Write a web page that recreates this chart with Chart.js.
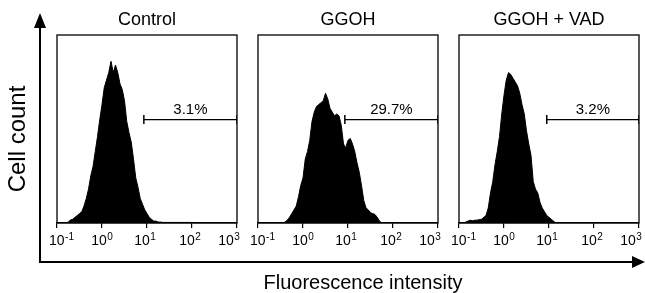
<!DOCTYPE html>
<html>
<head>
<meta charset="utf-8">
<script src="https://cdn.jsdelivr.net/npm/chart.js@4.4.0/dist/chart.umd.min.js"></script>
<style>
  html, body { margin: 0; padding: 0; background: #fff; overflow: hidden; }
  #wrap { position: relative; width: 645px; height: 293px; overflow: hidden;
          font-family: 'Liberation Sans', Arial, Helvetica, sans-serif; color: #000; }
  canvas { position: absolute; top: 0; }
  .vline { position: absolute; left: 39px; top: 24px; width: 1.5px; height: 238px; background: #000; }
  .vhead { position: absolute; left: 34px; top: 13px; width: 0; height: 0;
           border-left: 6px solid transparent; border-right: 6px solid transparent; border-bottom: 15px solid #000; }
  .hline { position: absolute; left: 39px; top: 261px; width: 596px; height: 1.5px; background: #000; }
  .hhead { position: absolute; left: 632px; top: 256px; width: 0; height: 0;
           border-top: 6px solid transparent; border-bottom: 6px solid transparent; border-left: 13px solid #000; }
  .ylab { position: absolute; left: 17px; top: 139px; font-size: 24px; line-height: 1; white-space: nowrap;
          transform: translate(-50%, -50%) rotate(-90deg); }
  .xlab { position: absolute; left: 363px; top: 282px; font-size: 20px; line-height: 1; white-space: nowrap;
          transform: translate(-50%, -50%); }
</style>
</head>
<body>
<div id="wrap">
  <canvas id="c0" width="210" height="260" style="left:42px"></canvas>
  <canvas id="c1" width="210" height="260" style="left:243px"></canvas>
  <canvas id="c2" width="210" height="260" style="left:444px"></canvas>
  <div class="vline"></div><div class="vhead"></div>
  <div class="hline"></div><div class="hhead"></div>
  <div class="ylab">Cell count</div>
  <div class="xlab">Fluorescence intensity</div>
</div>
<script>
// channel positions, log10 of fluorescence intensity
var channels = [-1.00,-0.95,-0.90,-0.85,-0.80,-0.75,-0.70,-0.65,-0.60,-0.55,
  -0.50,-0.45,-0.40,-0.35,-0.30,-0.25,-0.20,-0.15,-0.10,-0.05,
  0.00,0.05,0.10,0.15,0.20,0.25,0.30,0.35,0.40,0.45,
  0.50,0.55,0.60,0.65,0.70,0.75,0.80,0.85,0.90,0.95,
  1.00,1.05,1.10,1.15,1.20,1.25,1.30,1.35,1.40,1.45,
  1.50,1.55,1.60,1.65,1.70,1.75,1.80,1.85,1.90,1.95,2.00];

var panelTitles = ['Control', 'GGOH', 'GGOH + VAD'];

var controlCounts = [0,0,0,0,0,0.5,1.6,2,3,4,
  5,6,9,13,18,25,30,38,46,55,
  63,72,76,80,86,80,84,80,74,71,
  65,54,48,43,34,24,19,13,10,7,
  5,3,2,1,1,0.5,0.5,0.3,0.3,0.3,
  0.3,0.3,0.3,0.3,0.3,0.3,0.3,0.3,0.3,0.3,0.3];

var ggohCounts = [0,0,0,0,0,0,0,0,0,0,
  0,0,0.5,1.5,3,5,7,9,14,20,
  24,34,38,44,54,59,62,63,64,65,
  69,66,61,59,57,58,57,52,42,40,
  44,45,42,38,32,27,20,12,8,7,
  5.5,5,4.5,3,1,0,0,0,0,0,0];

var vadCounts = [0,0,0,0.5,1,1.5,1.2,1.5,1.5,1.8,
  2,3,4,8,16,22,31,38,46,58,
  68,76,80,79,77,75,73,69,63,58,
  49,42,36,22,18,16,11,8,6,4,
  3,2,1,0,0,0,0,0,0,0,
  0,0,0,0,0,0,0,0,0,0,0];

// marker gate (log10 start, end) and percent of cells inside it
var gateLow = [0.93, 0.93, 0.95];
var gateHigh = [3, 3, 3];
var gateLevel = 55;
var gatePercent = ['3.1%', '29.7%', '3.2%'];

// x ticks: 10^-1 .. 10^3
var tickValues = [-1, 0, 1, 2, 3];
var tickExponents = ['-1', '0', '1', '2', '3'];

var allCounts = [controlCounts, ggohCounts, vadCounts];

var FONT = "'Liberation Sans', Arial, Helvetica, sans-serif";
Chart.defaults.font.family = FONT;
Chart.defaults.color = '#000';

var framePlugin = {
  id: 'panelFrame',
  afterDraw: function (chart, args, opts) {
    var a = chart.chartArea;
    var ctx = chart.ctx;
    var xs = chart.scales.x, ys = chart.scales.y;
    ctx.save();
    ctx.strokeStyle = '#000';
    ctx.lineWidth = 1.3;
    ctx.strokeRect(a.left, a.top, a.right - a.left, a.bottom - a.top);

    // percent label above the gate
    var mid = (opts.low + opts.high) / 2;
    ctx.fillStyle = '#000';
    ctx.font = '15px ' + FONT;
    ctx.textAlign = 'left';
    ctx.textBaseline = 'alphabetic';
    var tw = ctx.measureText(opts.text).width;
    ctx.fillText(opts.text, xs.getPixelForValue(mid) - tw / 2, ys.getPixelForValue(opts.level) - 6);

    // tick labels with raised exponents; end labels pulled inside like the print
    var shift = [4.5, 0, -2, -2, -8];
    tickValues.forEach(function (v, i) {
      ctx.font = '14px ' + FONT;
      var wBase = ctx.measureText('10').width;
      ctx.font = '10px ' + FONT;
      var wExp = ctx.measureText(tickExponents[i]).width;
      var x0 = xs.getPixelForValue(v) + shift[i] - (wBase + wExp + 0.5) / 2;
      var base = a.bottom + 22;
      ctx.font = '14px ' + FONT;
      ctx.fillText('10', x0, base);
      ctx.font = '10px ' + FONT;
      ctx.fillText(tickExponents[i], x0 + wBase + 0.5, base - 5.5);
    });
    ctx.restore();
  }
};

for (var p = 0; p < 3; p++) {
  var counts = allCounts[p];
  var histData = channels.map(function (c, i) { return { x: c, y: counts[i] }; });
  new Chart(document.getElementById('c' + p), {
    type: 'line',
    data: {
      datasets: [{
        data: histData,
        borderColor: '#000',
        backgroundColor: '#000',
        borderWidth: 1,
        pointRadius: 0,
        fill: 'origin',
        tension: 0
      }, {
        data: [{ x: gateLow[p], y: gateLevel }, { x: gateHigh[p], y: gateLevel }],
        borderColor: '#000',
        borderWidth: 1.3,
        pointStyle: 'line',
        pointRotation: 90,
        pointRadius: 4.5,
        pointBorderWidth: 1.5,
        pointBorderColor: '#000',
        fill: false
      }]
    },
    options: {
      responsive: false,
      animation: false,
      events: [],
      layout: { padding: { left: 15, right: 15, top: 0, bottom: 0 } },
      plugins: {
        legend: { display: false },
        tooltip: { enabled: false },
        title: {
          display: true,
          text: panelTitles[p],
          font: { size: 18, weight: 'normal' },
          color: '#000',
          padding: { top: 9, bottom: 4.4 }
        },
        panelFrame: { text: gatePercent[p], low: gateLow[p], high: gateHigh[p], level: gateLevel }
      },
      scales: {
        x: {
          type: 'linear',
          min: -1,
          max: 3,
          afterBuildTicks: function (scale) {
            scale.ticks = tickValues.map(function (v) { return { value: v }; });
          },
          afterFit: function (scale) { scale.height = 37; },
          ticks: { display: false },
          grid: { drawOnChartArea: false, drawTicks: true, tickLength: 5, color: '#000', lineWidth: 1.2 },
          border: { display: true, color: '#000', width: 1.3 }
        },
        y: { display: false, min: 0, max: 100 }
      }
    },
    plugins: [framePlugin]
  });
}
</script>
</body>
</html>
